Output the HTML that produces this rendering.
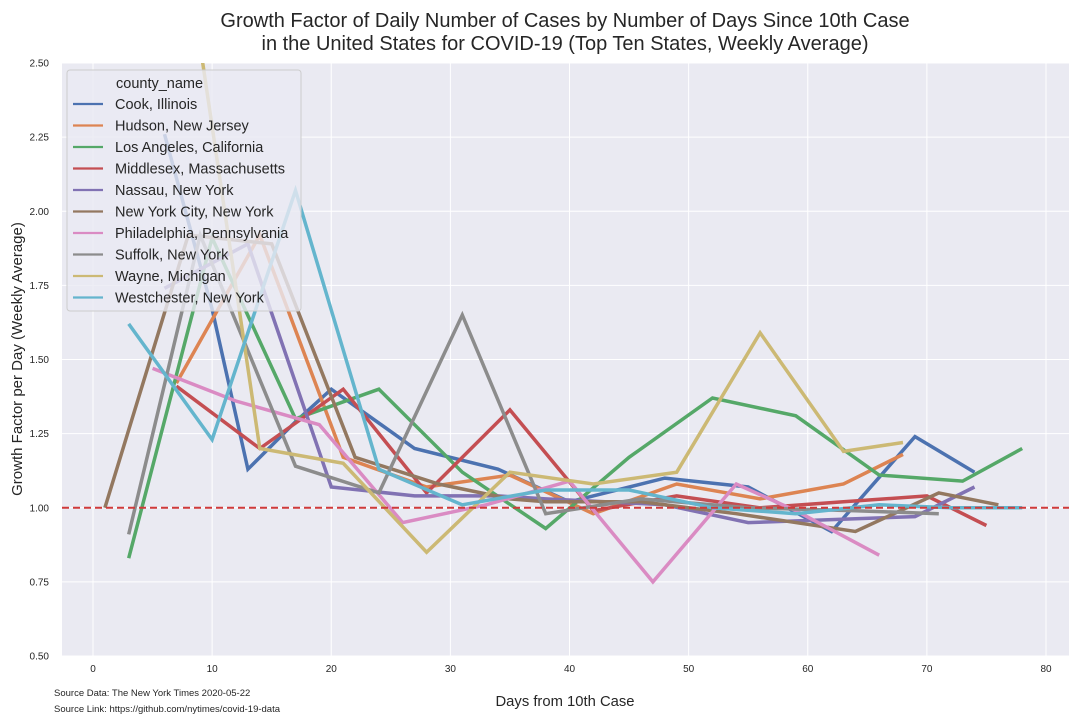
<!DOCTYPE html>
<html><head><meta charset="utf-8">
<style>
body{margin:0;background:#fff;font-family:"Liberation Sans",Arial,sans-serif;}
svg text{font-family:"Liberation Sans",Arial,sans-serif;fill:#262626;}
</style></head>
<body>
<svg id="chart" width="1080" height="720" xmlns="http://www.w3.org/2000/svg">
<defs><clipPath id="clip"><rect x="62" y="63" width="1007" height="593"/></clipPath></defs>
<text x="565" y="27" text-anchor="middle" font-size="20">Growth Factor of Daily Number of Cases by Number of Days Since 10th Case</text>
<text x="565" y="50" text-anchor="middle" font-size="20">in the United States for COVID-19 (Top Ten States, Weekly Average)</text>
<rect x="62" y="63" width="1007" height="593" fill="#eaeaf2"/>
<g id="grid"></g>
<g id="lines" clip-path="url(#clip)"></g>
<g id="ticks"></g>
<text x="565" y="706" text-anchor="middle" font-size="14.8">Days from 10th Case</text>
<text transform="translate(22,359) rotate(-90)" text-anchor="middle" font-size="15">Growth Factor per Day (Weekly Average)</text>
<text x="54" y="696" font-size="9.5">Source Data: The New York Times 2020-05-22</text>
<text x="54" y="712" font-size="9.5">Source Link: https://github.com/nytimes/covid-19-data</text>
<g id="legend"></g>
</svg>
<script>
const seriesNames=["Cook, Illinois","Hudson, New Jersey","Los Angeles, California","Middlesex, Massachusetts","Nassau, New York","New York City, New York","Philadelphia, Pennsylvania","Suffolk, New York","Wayne, Michigan","Westchester, New York"];
const cookX=[6,10,13,17,20,27,34,40,48,55,62,69,74];
const cookY=[2.26,1.67,1.13,1.29,1.40,1.20,1.13,1.02,1.10,1.07,0.92,1.24,1.12];
const hudsonX=[7,14,21,28,35,42,49,56,63,68];
const hudsonY=[1.42,1.92,1.17,1.07,1.11,0.98,1.08,1.03,1.08,1.18];
const laX=[3,10,17,24,31,38,45,52,59,66,73,78];
const laY=[0.83,1.91,1.30,1.40,1.12,0.93,1.17,1.37,1.31,1.11,1.09,1.20];
const middlesexX=[7,14,21,28,35,42,49,56,63,70,75];
const middlesexY=[1.41,1.20,1.40,1.05,1.33,0.99,1.04,1.00,1.02,1.04,0.94];
const nassauX=[6,13,20,27,34,38,43,48,55,62,69,74];
const nassauY=[1.74,1.89,1.07,1.04,1.04,1.03,1.02,1.01,0.95,0.96,0.97,1.07];
const nycX=[1,8,15,22,29,35,38,46,54,64,71,76];
const nycY=[1.00,1.92,1.89,1.17,1.08,1.03,1.02,1.02,0.98,0.92,1.05,1.01];
const philaX=[5,12,19,26,33,40,47,54,59,66];
const philaY=[1.47,1.36,1.28,0.95,1.01,1.09,0.75,1.08,0.99,0.84];
const suffolkX=[3,9,17,24,31,38,46,55,64,71];
const suffolkY=[0.91,1.92,1.14,1.05,1.65,0.98,1.03,1.00,0.99,0.98];
const wayneX=[7,14,21,28,35,42,49,56,63,68];
const wayneY=[3.10,1.20,1.15,0.85,1.12,1.08,1.12,1.59,1.19,1.22];
const westX=[3,10,17,24,31,38,45,52,59,66,72,78];
const westY=[1.62,1.23,2.07,1.13,1.01,1.06,1.06,1.00,0.98,1.01,1.00,1.00];
const xTicks=[0,10,20,30,40,50,60,70,80];
const yTicks=[0.50,0.75,1.00,1.25,1.50,1.75,2.00,2.25,2.50];
const colors=["#4c72b0","#dd8452","#55a868","#c44e52","#8172b3","#937860","#da8bc3","#8c8c8c","#ccb974","#64b5cd"];
const allX=[cookX,hudsonX,laX,middlesexX,nassauX,nycX,philaX,suffolkX,wayneX,westX];
const allY=[cookY,hudsonY,laY,middlesexY,nassauY,nycY,philaY,suffolkY,wayneY,westY];
const NS="http://www.w3.org/2000/svg";
function xs(d){return 93+d*(1046-93)/80;}
function ys(v){return 656-(v-0.5)*(656-63)/2;}
function mk(tag,attrs,parent){const e=document.createElementNS(NS,tag);for(const k in attrs)e.setAttribute(k,attrs[k]);parent.appendChild(e);return e;}
const grid=document.getElementById('grid'),ticks=document.getElementById('ticks');
xTicks.forEach(t=>{
  const l=mk('line',{x1:xs(t),x2:xs(t),y1:63,y2:656,stroke:'#fff','stroke-width':1},grid);
  
  
  const tx=mk('text',{x:xs(t),y:672,'text-anchor':'middle','font-size':10},ticks);
  tx.textContent=t;
  
  
});
yTicks.forEach(t=>{
  const l=mk('line',{x1:62,x2:1069,y1:ys(t),y2:ys(t),stroke:'#fff','stroke-width':1},grid);
  
  
  const tx=mk('text',{x:49,y:ys(t)+3.5,'text-anchor':'end','font-size':10},ticks);
  tx.textContent=t.toFixed(2);
  
  
});
const lines=document.getElementById('lines');
allX.forEach((xa,i)=>{
  const pts=xa.map((d,j)=>xs(d).toFixed(1)+','+ys(allY[i][j]).toFixed(1)).join(' ');
  const p=mk('polyline',{points:pts,fill:'none',stroke:colors[i],'stroke-width':3.5,'stroke-linejoin':'miter'},lines);
  
  
});
const ref=mk('line',{x1:62,x2:1069,y1:ys(1),y2:ys(1),stroke:'#d03a3a','stroke-width':2,'stroke-dasharray':'7,4'},lines);


const lg=document.getElementById('legend');
const box=mk('rect',{x:67,y:70,width:234,height:241,rx:3,fill:'#eaeaf2','fill-opacity':0.8,stroke:'#cccccc','stroke-width':1},lg);


const lt=mk('text',{x:116,y:88,'font-size':14.5},lg);
lt.textContent='county_name';


seriesNames.forEach((n,i)=>{
  const y=104+i*21.5;
  const l=mk('line',{x1:73,x2:103,y1:y,y2:y,stroke:colors[i],'stroke-width':2.2},lg);
  
  
  const t=mk('text',{x:115,y:y+5,'font-size':14.5},lg);
  t.textContent=n;
  
  
});
</script>
</body></html>
